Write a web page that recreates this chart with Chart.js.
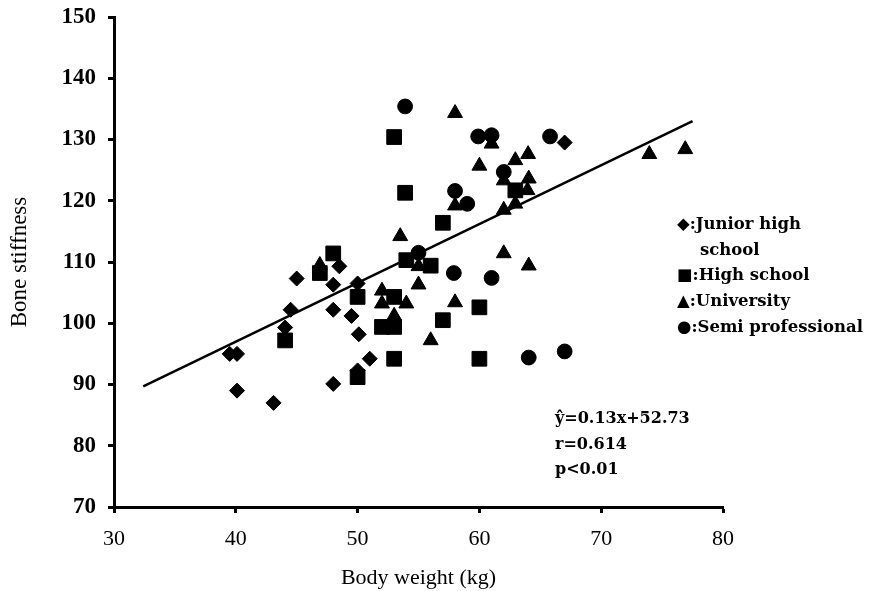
<!DOCTYPE html>
<html>
<head>
<meta charset="utf-8">
<script src="https://cdn.jsdelivr.net/npm/chart.js@4"></script>
<style>
  body { margin: 0; background: #fff; }
  #wrap { width: 871px; height: 591px; }
</style>
</head>
<body>
<div id="wrap"><canvas id="grafico" width="871" height="591"></canvas></div>
<script>
// dados
const juniorX = [39.5, 40.1, 40.1, 43.1, 44.05, 44.5, 45.0, 48.0, 48.0, 48.5, 48.0, 49.5, 50.1, 50.0, 50.0, 51.0, 67.0];
const juniorY = [95.0, 95.0, 89.0, 87.0, 99.3, 102.2, 107.3, 106.3, 102.2, 109.3, 90.1, 101.2, 98.2, 106.5, 92.3, 94.2, 129.5];

const highX = [44.05, 46.9, 48.0, 50.0, 50.0, 52.0, 53.0, 53.0, 53.0, 53.0, 53.9, 54.0, 56.0, 57.0, 57.0, 60.0, 60.0, 62.95];
const highY = [97.2, 108.2, 111.4, 104.3, 91.2, 99.4, 99.4, 104.3, 94.2, 130.4, 121.3, 110.3, 109.4, 100.5, 116.4, 102.6, 94.2, 121.7];

const uniX = [46.9, 52.0, 52.0, 53.0, 53.5, 54.0, 55.0, 55.0, 56.0, 58.0, 58.0, 58.0, 60.0, 61.0, 62.0, 62.0, 62.0, 62.95, 62.95, 64.0, 64.05, 63.95, 64.05, 73.95, 76.9];
const uniY = [109.5, 105.3, 103.2, 101.2, 114.2, 103.2, 109.3, 106.3, 97.2, 103.4, 119.2, 134.3, 125.7, 129.3, 123.3, 118.5, 111.4, 126.6, 119.5, 127.6, 123.6, 121.7, 109.4, 127.6, 128.4];

const semiX = [53.9, 55.0, 57.9, 58.0, 59.0, 59.9, 61.0, 61.0, 62.0, 64.05, 65.8, 67.0];
const semiY = [135.4, 111.5, 108.2, 121.6, 119.5, 130.5, 130.7, 107.4, 124.7, 94.4, 130.5, 95.4];

// reta de regressão (extremos)
const lineX = [32.4, 77.5];
const lineY = [89.7, 133.0];

const xTicks = [30, 40, 50, 60, 70, 80];
const yTicks = [70, 80, 90, 100, 110, 120, 130, 140, 150];

const legendLines = ['\u25C6:Junior high', 'school', '\u25A0:High school', '\u25B2:University', '\u25CF:Semi professional'];
const statLines = ['\u0177=0.13x+52.73', 'r=0.614', 'p<0.01'];

function pts(xs, ys) {
    return xs.map(function(x, i) { return { x: x, y: ys[i] }; });
}

const textos = {
    id: 'textos',
    afterDraw(chart) {
        const ctx = chart.ctx;
        ctx.save();
        ctx.fillStyle = '#000';
        ctx.textBaseline = 'middle';
        ctx.font = 'bold 16.5px "DejaVu Serif"';
        const lx = [677, 700, 677, 677, 677];
        legendLines.forEach(function(t, i) {
            ctx.fillText(t, lx[i], 225 + i * 25.6);
        });
        ctx.font = 'bold 16px "DejaVu Serif"';
        statLines.forEach(function(t, i) {
            ctx.fillText(t, 555, 419 + i * 25.5);
        });
        ctx.restore();
    }
};

const ctx = document.getElementById('grafico');

new Chart(ctx, {
    type: 'scatter',
    data: {
        datasets: [
            { label: 'Junior high school', data: pts(juniorX, juniorY), pointStyle: 'rectRot', pointRadius: 7.5, backgroundColor: '#000', borderColor: '#000' },
            { label: 'High school', data: pts(highX, highY), pointStyle: 'rect', pointRadius: 10.4, backgroundColor: '#000', borderColor: '#000' },
            { label: 'University', data: pts(uniX, uniY), pointStyle: 'triangle', pointRadius: 8.6, backgroundColor: '#000', borderColor: '#000' },
            { label: 'Semi professional', data: pts(semiX, semiY), pointStyle: 'circle', pointRadius: 7.4, backgroundColor: '#000', borderColor: '#000' },
            { type: 'line', label: 'reg', data: pts(lineX, lineY), borderColor: '#000', borderWidth: 2.5, pointRadius: 0, fill: false }
        ]
    },
    options: {
        responsive: false,
        animation: false,
        layout: { padding: { left: 0, right: 148, top: 17, bottom: 0 } },
        plugins: { legend: { display: false }, tooltip: { enabled: false } },
        scales: {
            x: {
                type: 'linear',
                min: 30, max: 80,
                afterFit: function(s) { s.height = 84; s.paddingLeft = 0; s.paddingRight = 0; },
                afterBuildTicks: function(s) { s.ticks = xTicks.map(function(v) { return { value: v }; }); },
                border: { color: '#000', width: 3 },
                grid: { drawOnChartArea: false, drawTicks: true, tickLength: 6, tickColor: '#000', tickWidth: 3 },
                ticks: { color: '#000', padding: 13, maxRotation: 0, font: { family: '"Liberation Serif"', size: 22 } },
                title: { display: true, text: 'Body weight (kg)', color: '#000', padding: { top: 0, bottom: 0 }, font: { family: '"Liberation Serif"', size: 22 } }
            },
            y: {
                type: 'linear',
                min: 70, max: 150,
                afterFit: function(s) { s.width = 114; s.paddingTop = 0; s.paddingBottom = 0; },
                afterBuildTicks: function(s) { s.ticks = yTicks.map(function(v) { return { value: v }; }); },
                border: { color: '#000', width: 3 },
                grid: { drawOnChartArea: false, drawTicks: true, tickLength: 6, tickColor: '#000', tickWidth: 3 },
                ticks: { color: '#000', padding: 12, font: { family: '"Liberation Serif"', size: 23, weight: 'bold' } },
                title: { display: true, text: 'Bone stiffness', color: '#000', padding: { top: 6, bottom: 0 }, font: { family: '"Liberation Serif"', size: 23 } }
            }
        }
    },
    plugins: [textos]
});
</script>
</body>
</html>
